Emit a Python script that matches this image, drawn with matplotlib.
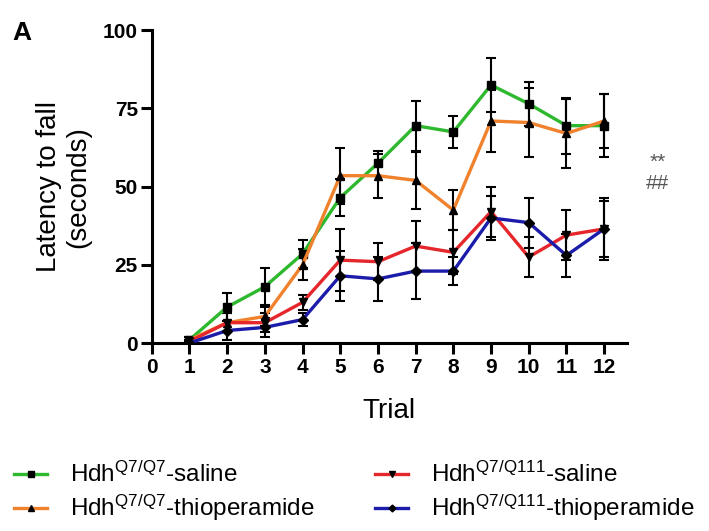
import numpy as np
import matplotlib.pyplot as plt

trials = list(range(1, 13))

wt_saline = [1, 11.5, 18, 28.5, 46.5, 57.5, 69.5, 67.5, 82.5, 76.5, 69.5, 69.5]
wt_saline_err = [1, 4.5, 6, 4.5, 6, 4, 8, 5, 8.5, 7, 9, 10]

wt_thio = [1, 6.5, 8.5, 25, 53.5, 53.5, 52, 42.5, 71, 70.5, 67, 71]
wt_thio_err = [1, 3, 3, 5, 9, 7, 9, 6.5, 10, 11, 11, 8.5]

hd_saline = [0.5, 6.5, 6.5, 13, 26.5, 26, 31, 29, 42, 27.5, 34.5, 36.5]
hd_saline_err = [0.5, 3, 3, 2.5, 10, 6, 8, 7, 8, 6.5, 8, 9]

hd_thio = [0, 4, 5, 7.5, 21.5, 20.5, 23, 23, 40, 38.5, 28, 36.5]
hd_thio_err = [0.5, 3, 3, 2, 8, 7, 9, 4.5, 7, 8, 7, 10]

series = [
    (r'Hdh$\mathregular{^{Q7/Q7}}$-saline', wt_saline, wt_saline_err, '#2eb82e', 's'),
    (r'Hdh$\mathregular{^{Q7/Q7}}$-thioperamide', wt_thio, wt_thio_err, '#f0812d', '^'),
    (r'Hdh$\mathregular{^{Q7/Q111}}$-saline', hd_saline, hd_saline_err, '#e5262b', 'v'),
    (r'Hdh$\mathregular{^{Q7/Q111}}$-thioperamide', hd_thio, hd_thio_err, '#1c1cab', 'D'),
]

plt.rcParams['font.family'] = ['Liberation Sans', 'DejaVu Sans']

fig = plt.figure(figsize=(7.09, 5.31), dpi=100)
ax = fig.add_axes([0.214, 0.354, 0.67, 0.589])

handles = []
for label, y, err, color, marker in series:
    ax.errorbar(trials, y, yerr=err, fmt='none', ecolor='black',
                elinewidth=1.5, capsize=3.5, capthick=1.5, zorder=2)
    h, = ax.plot(trials, y, color=color, linewidth=2.4, marker=marker,
                 markersize=6 if marker != 'D' else 5, markerfacecolor='black',
                 markeredgecolor='black', label=label, zorder=3)
    handles.append(h)

ax.set_xlim(0, 12.6)
ax.set_ylim(0, 100)
ax.set_xticks(range(0, 13))
ax.set_yticks([0, 25, 50, 75, 100])
for side in ['top', 'right']:
    ax.spines[side].set_visible(False)
for side in ['left', 'bottom']:
    ax.spines[side].set_linewidth(2.2)
ax.tick_params(width=2.2, length=8, labelsize=15)
ax.tick_params(axis='x', pad=3)
ax.tick_params(axis='y', pad=2)
for t in ax.get_xticklabels() + ax.get_yticklabels():
    t.set_fontweight('bold')

ax.set_xlabel('Trial', fontsize=20, labelpad=15)
ax.set_ylabel('Latency to fall\n(seconds)', fontsize=20, labelpad=8)

fig.text(0.018, 0.925, 'A', fontsize=19, fontweight='bold')
fig.text(0.928, 0.683, '**', fontsize=15, color='#555555', ha='center')
fig.text(0.928, 0.645, '##', fontsize=15, color='#555555', ha='center')

fig.legend(handles=handles, loc='upper left', bbox_to_anchor=(0.02, 0.13),
           ncol=2, frameon=False, fontsize=17.5, handlelength=1.35,
           handletextpad=0.95, columnspacing=2.5, labelspacing=0.25,
           markerscale=0.7, borderpad=0, borderaxespad=0)

fig.savefig('out.png', dpi=100)
